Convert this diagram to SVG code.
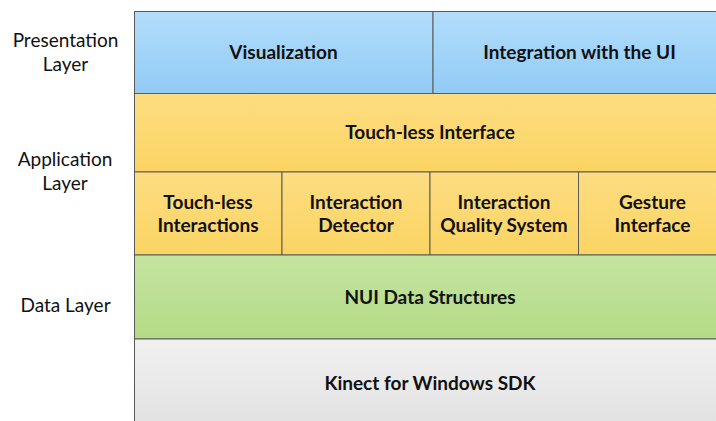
<svg xmlns="http://www.w3.org/2000/svg" width="716" height="421" viewBox="0 0 716 421">
  <defs>
    <linearGradient id="gBlue" x1="0" y1="0" x2="0" y2="1">
      <stop offset="0" stop-color="#b2ddfb"/>
      <stop offset="1" stop-color="#92cbf5"/>
    </linearGradient>
    <linearGradient id="gYellow" x1="0" y1="0" x2="0" y2="1">
      <stop offset="0" stop-color="#fddd82"/>
      <stop offset="1" stop-color="#fbd462"/>
    </linearGradient>
    <linearGradient id="gGreen" x1="0" y1="0" x2="0" y2="1">
      <stop offset="0" stop-color="#c4e4a0"/>
      <stop offset="1" stop-color="#b4db86"/>
    </linearGradient>
    <linearGradient id="gGrey" x1="0" y1="0" x2="0" y2="1">
      <stop offset="0" stop-color="#f1f1f1"/>
      <stop offset="1" stop-color="#e1e1e1"/>
    </linearGradient>
  </defs>
  <style>
    .box { stroke: #5a5a5a; stroke-width: 1; }
    .blue { fill: url(#gBlue); }
    .yellow { fill: url(#gYellow); }
    .green { fill: url(#gGreen); }
    .grey { fill: url(#gGrey); }
    .lbl { font-family: Lato, "Liberation Sans", sans-serif; font-weight: bold; font-size: 19px; fill: #111; text-anchor: middle; }
    .side { font-family: Lato, "Liberation Sans", sans-serif; font-size: 19px; fill: #111; text-anchor: middle; }
  </style>

  <rect width="716" height="421" fill="#ffffff"/>

  <!-- layer names on the left -->
  <g id="layer-names">
    <text class="side" x="65.5" y="47">Presentation</text>
    <text class="side" x="65.5" y="71">Layer</text>
    <text class="side" x="65" y="166">Application</text>
    <text class="side" x="65" y="190">Layer</text>
    <text class="side" x="65.5" y="312">Data Layer</text>
  </g>

  <!-- presentation layer -->
  <g id="visualization">
    <rect class="box blue" x="134.5" y="11.5" width="298.5" height="82"/>
    <text class="lbl" x="283.5" y="59">Visualization</text>
  </g>
  <g id="integration-ui">
    <rect class="box blue" x="433" y="11.5" width="293" height="82"/>
    <text class="lbl" x="579.5" y="59">Integration with the UI</text>
  </g>

  <!-- application layer -->
  <g id="touchless-interface">
    <rect class="box yellow" x="134.5" y="93.5" width="592" height="78.5"/>
    <text class="lbl" x="430" y="138.5">Touch-less Interface</text>
  </g>
  <g id="touchless-interactions">
    <rect class="box yellow" x="134.5" y="172" width="147.5" height="83"/>
    <text class="lbl" x="208" y="208.5">Touch-less</text>
    <text class="lbl" x="208" y="232">Interactions</text>
  </g>
  <g id="interaction-detector">
    <rect class="box yellow" x="282" y="172" width="148" height="83"/>
    <text class="lbl" x="356" y="208.5">Interaction</text>
    <text class="lbl" x="356" y="232">Detector</text>
  </g>
  <g id="interaction-quality">
    <rect class="box yellow" x="430" y="172" width="148.5" height="83"/>
    <text class="lbl" x="504" y="208.5">Interaction</text>
    <text class="lbl" x="504" y="232">Quality System</text>
  </g>
  <g id="gesture-interface">
    <rect class="box yellow" x="578.5" y="172" width="148" height="83"/>
    <text class="lbl" x="652.5" y="208.5">Gesture</text>
    <text class="lbl" x="652.5" y="232">Interface</text>
  </g>

  <!-- data layer -->
  <g id="nui-data-structures">
    <rect class="box green" x="134.5" y="255" width="592" height="84"/>
    <text class="lbl" x="430" y="304">NUI Data Structures</text>
  </g>

  <!-- platform -->
  <g id="kinect-sdk">
    <rect class="box grey" x="134.5" y="339" width="592" height="90"/>
    <text class="lbl" x="430" y="390">Kinect for Windows SDK</text>
  </g>
</svg>
